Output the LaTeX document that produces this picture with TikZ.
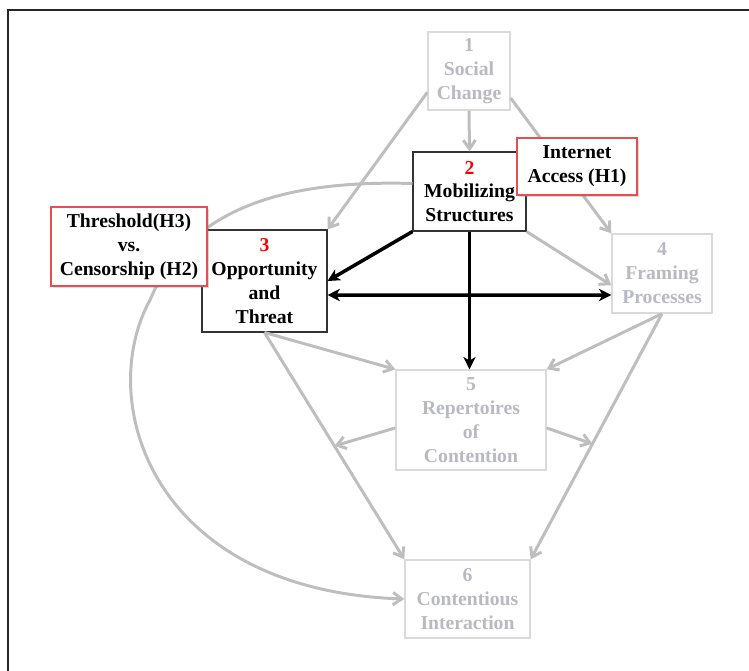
\documentclass[tikz,border=0pt]{standalone}
\usepackage{fontspec}
\setmainfont{Liberation Serif}
\usetikzlibrary{arrows.meta,calc,shadows}
\definecolor{boxgray}{RGB}{218,218,218}
\definecolor{txtgray}{RGB}{185,185,195}
\definecolor{linegray}{RGB}{190,190,190}
\definecolor{hypred}{RGB}{228,80,80}

\begin{document}
\begin{tikzpicture}[x=0.02cm, y=-0.02cm, font=\fontsize{11.2}{13.6}\selectfont\bfseries,
	faded/.style={draw=boxgray, fill=white, text=txtgray, align=center, inner sep=0pt, line width=0.8pt},
	active/.style={draw=black!80, fill=white, align=center, inner sep=0pt, line width=0.6pt},
	hypo/.style={draw=hypred, fill=white, align=center, inner sep=0pt, line width=0.9pt, drop shadow={opacity=0.3, shadow xshift=1.2pt, shadow yshift=-1.2pt, fill=black!50}},
	feed/.style={-{Straight Barb[length=5pt,width=7pt]}, linegray, line width=1.7pt},
	drive/.style={-{Stealth[length=7pt,width=7pt,inset=2pt]}, black, line width=2pt}]
	\useasboundingbox (0,0) rectangle (749,670);
	\draw[line width=1.4pt, black!85] (8,672) -- (8,10) -- (751,10);
	\node[faded, minimum width=1.64cm, minimum height=1.56cm] (SC) at (469,71) {1\\Social\\Change};
	\node[active, minimum width=2.26cm, minimum height=1.58cm] (MS) at (469.5,191.5) {\textcolor{red}{2}\\Mobilizing\\Structures};
	\node[active, minimum width=2.5cm, minimum height=2.04cm] (OT) at (264.5,281) {\textcolor{red}{3}\\Opportunity\\and\\Threat};
	\node[faded, minimum width=2cm, minimum height=1.58cm] (FP) at (662,273.5) {4\\Framing\\Processes};
	\node[faded, minimum width=3cm, minimum height=2cm] (RC) at (471,420) {5\\Repertoires\\of\\Contention};
	\node[faded, minimum width=2.5cm, minimum height=1.56cm] (CI) at (467.5,599) {6\\Contentious\\Interaction};
	% gray paths of the model
	\draw[feed] (SC.south) -- (MS.north);
	\draw[feed] (SC.207) -- (OT.north east);
	\draw[feed] (SC.327) -- (FP.north west);
	\draw[feed] (MS.south east) -- (FP.193);
	\draw[feed] (MS.172) .. controls (290,180) and (190,205) .. (150,300) .. controls (95,400) and (150,590) .. (CI.west);
	\draw[feed] (OT.south) -- (RC.north west);
	\draw[feed] (OT.south) -- coordinate[pos=0.5] (onOC) (CI.north west);
	\draw[feed] (FP.south) -- (RC.north east);
	\draw[feed] (FP.south) -- coordinate[pos=0.53] (onFC) (CI.north east);
	\draw[feed] (RC.186) -- (onOC);
	\draw[feed] (RC.354) -- (onFC);
	% black paths
	\draw[drive] (MS.south west) -- (OT.east);
	\draw[drive, {Stealth[length=7pt,width=7pt,inset=2pt]}-{Stealth[length=7pt,width=7pt,inset=2pt]}] ($(OT.east)+(0,14)$) -- ($(FP.west)+(0,21.5)$);
	\draw[drive] (MS.south) -- (MS.south |- RC.north);
	% hypotheses
	\node[hypo, minimum width=2.4cm, minimum height=1.14cm] (IA) at (577,166.5) {Internet\\Access (H1)};
	\node[hypo, minimum width=3.12cm, minimum height=1.58cm] (TC) at (129,246.5) {Threshold(H3)\\vs.\\Censorship (H2)};
\end{tikzpicture}
\end{document}
